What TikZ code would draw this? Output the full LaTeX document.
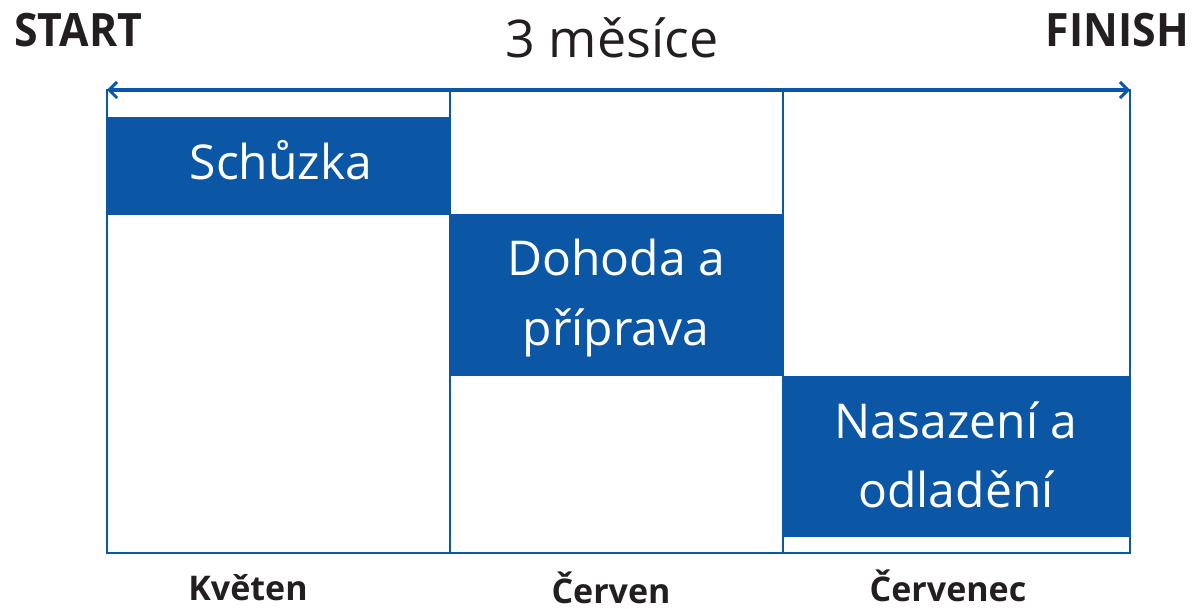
\documentclass[tikz,border=0pt]{standalone}
\usepackage{fontspec}
\setmainfont{Open Sans}
\newfontfamily\condfont{Open Sans}[FakeStretch=0.93]
\usetikzlibrary{arrows.meta}
\definecolor{pblue}{RGB}{11,87,165}
\definecolor{ptext}{RGB}{35,31,32}
\begin{document}
\begin{tikzpicture}[x=1pt,y=-1pt,
  frame/.style={draw=pblue,line width=2.5pt},
  ptxt/.style={text=white,font=\fontsize{48}{69}\selectfont,anchor=base,inner sep=0pt},
  toplbl/.style={text=ptext,font=\condfont\bfseries\fontsize{46}{50}\selectfont,anchor=base,inner sep=0pt},
  month/.style={text=ptext,font=\bfseries\fontsize{34}{40}\selectfont,anchor=base,inner sep=0pt}]
\useasboundingbox (0,0) rectangle (1193,609);
% blue phase boxes
\fill[pblue] (107,117) rectangle (450,215);
\fill[pblue] (450,214) rectangle (783,376);
\fill[pblue] (783,376) rectangle (1130,537);
% frame and dividers
\draw[frame] (107,90) rectangle (1130,553);
\draw[frame] (450,90) -- (450,553);
\draw[frame] (783,90) -- (783,553);
% timeline arrow
\coordinate (tl) at (107,90);
\coordinate (tr) at (1130,90);
\draw[pblue,line width=3.5pt,{Straight Barb[length=8pt,width=16pt,line width=3pt]}-{Straight Barb[length=8pt,width=16pt,line width=3pt]}] (tl) -- (tr);
% texts in boxes
\node[ptxt] (s) at (281,180) {Schůzka};
\node[ptxt] (d1) at (616,276) {Dohoda a};
\node[ptxt] (d2) at (616,345) {příprava};
\node[ptxt] (n1) at (956,438) {Nasazení a};
\node[ptxt] (n2) at (956,507) {odladění};
% top labels
\node[toplbl,anchor=base west] (start) at (14,47) {START};
\node[toplbl,anchor=base east] (finish) at (1189,47) {FINISH};
\node[text=ptext,font=\fontsize{52}{56}\selectfont,anchor=base,inner sep=0pt] (dur) at (612,58) {3 měsíce};
% months
\node[month] (m1) at (248,600) {Květen};
\node[month] (m2) at (611,603) {Červen};
\node[month] (m3) at (948,601) {Červenec};
\end{tikzpicture}
\end{document}
